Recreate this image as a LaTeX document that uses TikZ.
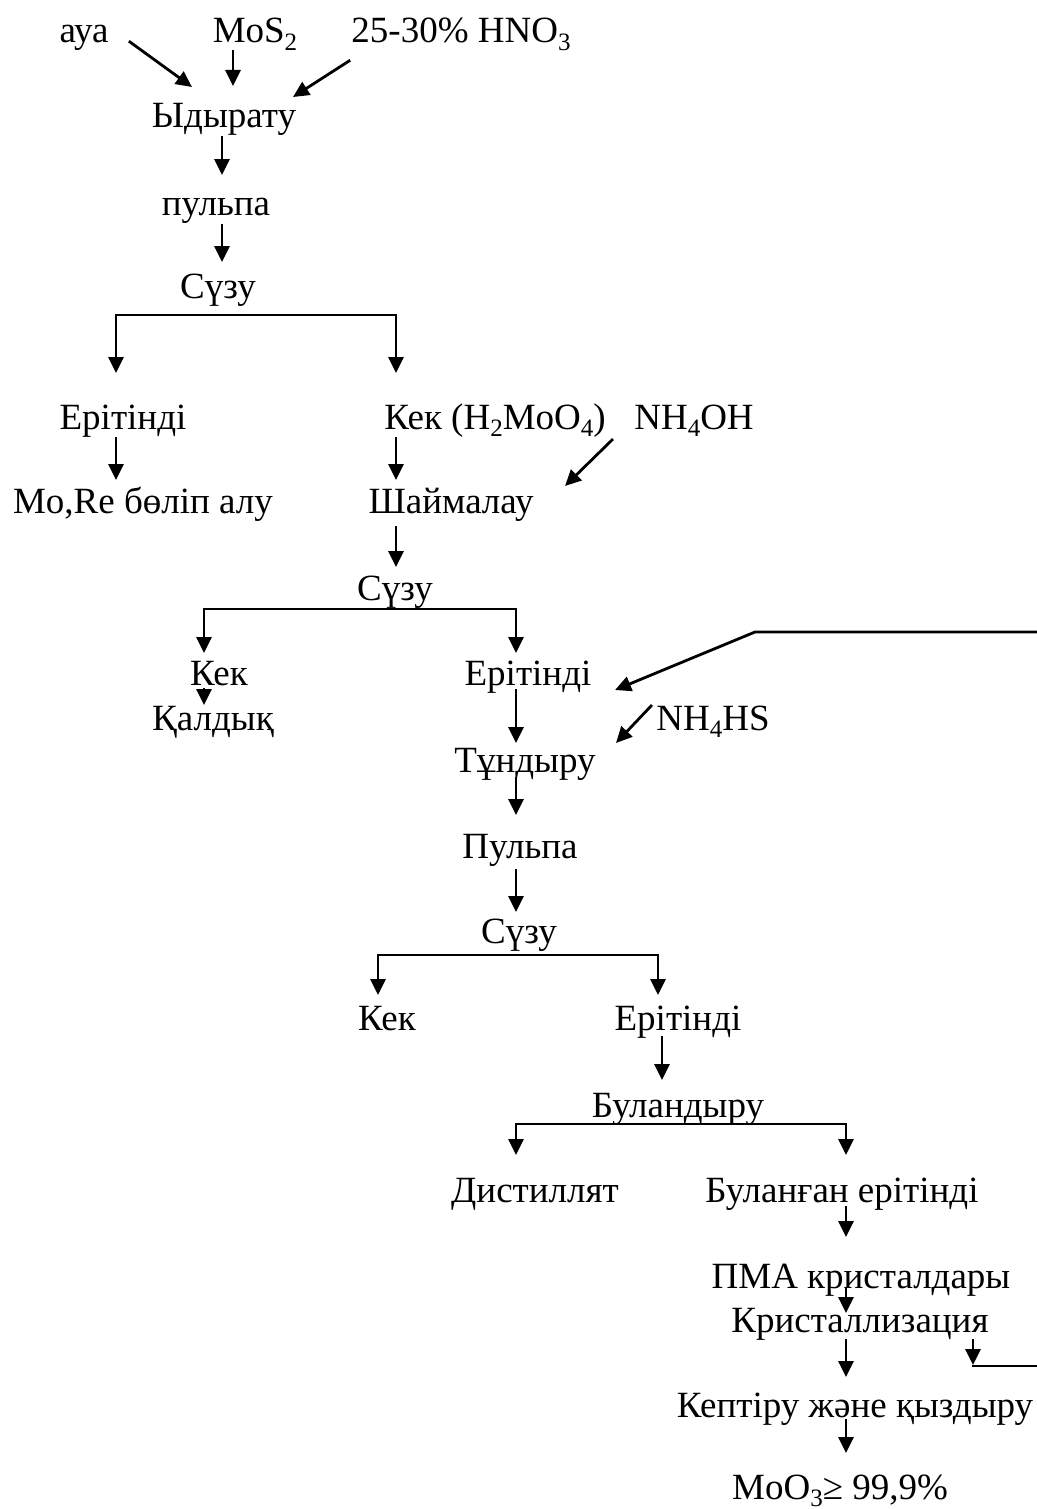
\documentclass[tikz,border=0pt]{standalone}
\usepackage{fontspec}
\setmainfont{Liberation Serif}
\usetikzlibrary{arrows.meta,calc}
\newcommand{\sbs}[1]{\raisebox{-0.2em}{\fontsize{25}{25}\selectfont #1}}
\begin{document}
\begin{tikzpicture}[x=1pt,y=-1pt,
  lbl/.style={inner sep=0pt, outer sep=0pt, text height=26pt, text depth=8pt, anchor=base, font=\fontsize{37}{40}\selectfont},
  arr/.style={line width=2.8pt, line cap=rect, -{Triangle[width=15pt,length=16pt]}},
  ln/.style={line width=2.8pt, line cap=rect}]
\useasboundingbox (0,0) rectangle (1036,1509);

% nodes
\node[lbl] (aua) at (84,43) {ауа};
\node[lbl] (mos2) at (255,43) {MoS\sbs{2}};
\node[lbl] (hno3) at (461,43) {25-30\% HNO\sbs{3}};
\node[lbl] (idyr) at (224,128) {Ыдырату};
\node[lbl] (pulpa1) at (216,215) {пульпа};
\node[lbl] (suzu1) at (218,298) {Сүзу};
\node[lbl] (erL) at (123,429) {Ерітінді};
\node[lbl] (kek1) at (495,429) {Кек (H\sbs{2}MoO\sbs{4})};
\node[lbl] (nh4oh) at (694,429) {NH\sbs{4}OH};
\node[lbl] (more) at (143,513) {Mo,Re бөліп алу};
\node[lbl] (shaim) at (451,513) {Шаймалау};
\node[lbl] (suzu2) at (395,600) {Сүзу};
\node[lbl] (kek2) at (219,685) {Кек};
\node[lbl] (er2) at (528,685) {Ерітінді};
\node[lbl] (qaldyq) at (213,730) {Қалдық};
\node[lbl] (nh4hs) at (713,730) {NH\sbs{4}HS};
\node[lbl] (tundyru) at (525,772) {Тұндыру};
\node[lbl] (pulpa2) at (520,858) {Пульпа};
\node[lbl] (suzu3) at (519,943) {Сүзу};
\node[lbl] (kek3) at (387,1030) {Кек};
\node[lbl] (er3) at (678,1030) {Ерітінді};
\node[lbl] (buland) at (678,1117) {Буландыру};
\node[lbl] (distil) at (535,1202) {Дистиллят};
\node[lbl] (bulangan) at (842,1202) {Буланған ерітінді};
\node[lbl] (pma) at (861,1288) {ПМА кристалдары};
\node[lbl] (krist) at (860,1332) {Кристаллизация};
\node[lbl] (kepti) at (855,1417) {Кептіру және қыздыру};
\node[lbl] (moo3) at (840,1499) {MoO\sbs{3}≥ 99,9\%};

% column coordinates
\coordinate (c233) at (233,0);
\coordinate (c222) at (222,0);
\coordinate (c116) at (116,0);
\coordinate (c396) at (396,0);
\coordinate (c204) at (204,0);
\coordinate (c516) at (516,0);
\coordinate (c378) at (378,0);
\coordinate (c658) at (658,0);
\coordinate (c662) at (662,0);
\coordinate (c846) at (846,0);
\coordinate (c973) at (973,0);

% top inputs
\draw[arr] ($(aua.base)+(46,-1)$) -- ($(idyr.base)+(-32,-41)$);
\draw[arr, shorten >=16pt] (mos2.south -| c233) -- (idyr.north -| c233);
\draw[arr] ($(hno3.base)+(-112,18)$) -- ($(idyr.base)+(69,-31)$);
\draw[arr, shorten <=1pt, shorten >=14pt] (idyr.south -| c222) -- (pulpa1.north -| c222);
\draw[arr, shorten <=2pt, shorten >=10pt] (pulpa1.south -| c222) -- (suzu1.north -| c222);

% bracket 1
\coordinate (br1) at ($(suzu1.base)+(0,17)$);
\draw[arr, shorten >=30pt] (br1 -| c396) -- (br1 -| c116) -- (erL.north -| c116);
\draw[arr, shorten >=30pt] (br1 -| c396) -- (kek1.north -| c396);

\draw[arr, shorten <=1pt, shorten >=7pt] (erL.south -| c116) -- (more.north -| c116);
\draw[arr, shorten <=1pt, shorten >=7pt] (kek1.south -| c396) -- (shaim.north -| c396);
\draw[arr] ($(nh4oh.base)+(-82,11)$) -- ($(shaim.base)+(114,-27)$);
\draw[arr, shorten <=6pt, shorten >=7pt] (shaim.south -| c396) -- (suzu2.north -| c396);

% bracket 2
\coordinate (br2) at ($(suzu2.base)+(0,9)$);
\draw[arr, shorten >=6pt] (br2 -| c516) -- (br2 -| c204) -- (kek2.north -| c204);
\draw[arr, shorten >=6pt] (br2 -| c516) -- (er2.north -| c516);
\draw[arr, shorten <=-5pt, shorten >=-1pt] (kek2.south -| c204) -- (qaldyq.north -| c204);

% feedback loop (upper part)
\coordinate (fbtop) at (1036,632);
\coordinate (fbcorner) at (755,632);
\draw[arr] (fbtop) -- (fbcorner) -- ($(er2.base)+(87,5)$);

\draw[arr, shorten <=-3pt, shorten >=3pt] (er2.south -| c516) -- (tundyru.north -| c516);
\draw[arr] ($(nh4hs.base)+(-62,-24)$) -- ($(tundyru.base)+(91,-29)$);
\draw[arr, shorten <=-2pt, shorten >=17pt] (tundyru.south -| c516) -- (pulpa2.north -| c516);
\draw[arr, shorten <=4pt, shorten >=5pt] (pulpa2.south -| c516) -- (suzu3.north -| c516);

% bracket 3
\coordinate (br3) at ($(suzu3.base)+(0,12)$);
\draw[arr, shorten >=9pt] (br3 -| c658) -- (br3 -| c378) -- (kek3.north -| c378);
\draw[arr, shorten >=9pt] (br3 -| c658) -- (er3.north -| c658);

\draw[arr, shorten <=-1pt, shorten >=11pt] (er3.south -| c662) -- (buland.north -| c662);

% bracket 4
\coordinate (br4) at ($(buland.base)+(0,7)$);
\draw[arr, shorten >=21pt] (br4 -| c846) -- (br4 -| c516) -- (distil.north -| c516);
\draw[arr, shorten >=21pt] (br4 -| c846) -- (bulangan.north -| c846);

\draw[arr, shorten <=-3pt, shorten >=25pt] (bulangan.south -| c846) -- (pma.north -| c846);
\draw[arr, shorten <=-8pt, shorten >=-7pt] (pma.south -| c846) -- (krist.north -| c846);
\draw[arr, shorten >=14pt] (krist.south -| c846) -- (kepti.north -| c846);
\draw[arr, shorten <=-5pt, shorten >=20pt] (kepti.south -| c846) -- (moo3.north -| c846);

% feedback loop (lower part)
\coordinate (fbbot) at (1036,1366);
\draw[ln] (fbbot) -- (fbbot -| c973);
\draw[arr, shorten >=1pt] (krist.south -| c973) -- (fbbot -| c973);
\end{tikzpicture}
\end{document}
